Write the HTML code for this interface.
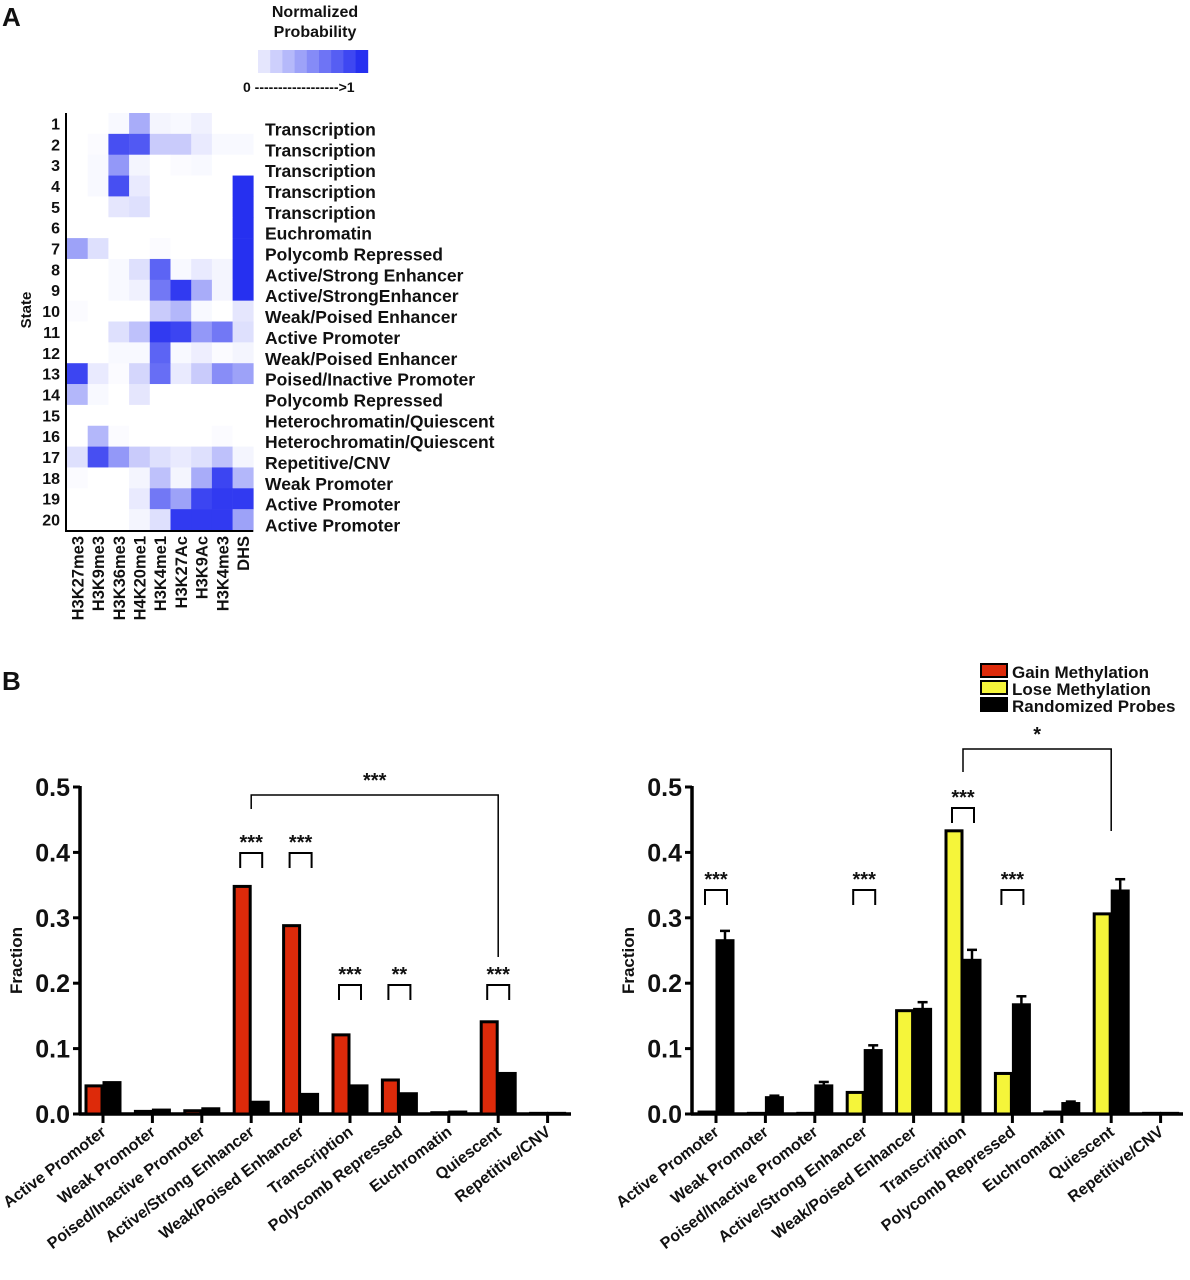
<!DOCTYPE html>
<html><head><meta charset="utf-8"><style>
body{margin:0;background:#fff;font-family:"Liberation Sans",Arial,sans-serif;}
svg{display:block}
text{font-family:"Liberation Sans",Arial,sans-serif;font-weight:bold;fill:#111}
</style></head><body>
<svg id="fig" width="1190" height="1280" viewBox="0 0 1190 1280">
<text x="2" y="26" font-size="26">A</text>
<text x="2" y="690" font-size="26">B</text>
<text x="315" y="17" font-size="16" text-anchor="middle">Normalized</text>
<text x="315" y="37" font-size="16" text-anchor="middle">Probability</text>
<g id="cbar"></g>
<text x="243" y="92" font-size="14">0 ------------------&gt;1</text>
<text transform="translate(31,310) rotate(-90)" font-size="15" text-anchor="middle">State</text>
<g id="heat"></g>
<g id="barL"></g>
<g id="barR"></g>
<g>
<rect x="981" y="664" width="26" height="13" fill="#dd2a0a" stroke="#000" stroke-width="2"/>
<text x="1012" y="678" font-size="17">Gain Methylation</text>
<rect x="981" y="681" width="26" height="13" fill="#f5f53a" stroke="#000" stroke-width="2"/>
<text x="1012" y="695" font-size="17">Lose Methylation</text>
<rect x="981" y="698" width="26" height="13" fill="#000" stroke="#000" stroke-width="2"/>
<text x="1012" y="712" font-size="17">Randomized Probes</text>
</g>
</svg>
<script>
const marks=["H3K27me3","H3K9me3","H3K36me3","H4K20me1","H3K4me1","H3K27Ac","H3K9Ac","H3K4me3","DHS"];
const stateNames=["Transcription","Transcription","Transcription","Transcription","Transcription","Euchromatin","Polycomb Repressed","Active/Strong Enhancer","Active/StrongEnhancer","Weak/Poised Enhancer","Active Promoter","Weak/Poised Enhancer","Poised/Inactive Promoter","Polycomb Repressed","Heterochromatin/Quiescent","Heterochromatin/Quiescent","Repetitive/CNV","Weak Promoter","Active Promoter","Active Promoter"];
const heatValues=[
[0,0,.03,.4,.05,.03,.07,0,0],
[0,.02,.85,.8,.25,.25,.1,.03,.03],
[0,.03,.5,.05,0,.02,.03,0,0],
[0,.03,.85,.1,0,0,0,0,1],
[0,0,.12,.15,0,0,0,0,1],
[0,0,0,0,0,0,0,0,1],
[.45,.15,0,0,.02,0,0,0,1],
[0,0,.03,.15,.75,.03,.1,.05,1],
[0,0,.03,.07,.65,.95,.4,.05,1],
[.02,0,0,0,.25,.35,.03,0,.12],
[0,0,.15,.3,.95,.9,.5,.65,.15],
[0,0,.03,.03,.75,.03,.08,.02,.05],
[.9,.1,.02,.2,.7,.1,.25,.55,.45],
[.35,.03,0,.12,0,0,0,0,0],
[0,0,0,0,0,0,0,0,0],
[0,.35,.02,0,0,0,0,.02,0],
[.15,.85,.5,.25,.15,.1,.15,.3,.05],
[.02,0,0,.05,.3,.05,.4,.9,.35],
[0,0,0,.1,.65,.45,.9,.95,.95],
[0,0,0,.05,.15,.95,.95,.95,.45]];
const categories=["Active Promoter","Weak Promoter","Poised/Inactive Promoter","Active/Strong Enhancer","Weak/Poised Enhancer","Transcription","Polycomb Repressed","Euchromatin","Quiescent","Repetitive/CNV"];
const gainValues=[0.043,0.004,0.005,0.348,0.288,0.121,0.052,0.002,0.141,0.001];
const randomLeft=[0.048,0.006,0.008,0.018,0.030,0.043,0.031,0.003,0.062,0.001];
const loseValues=[0.003,0.001,0.001,0.033,0.158,0.433,0.062,0.003,0.306,0.001];
const randomRight=[0.265,0.025,0.043,0.097,0.160,0.235,0.167,0.016,0.341,0.001];
const randomRightErr=[0.015,0.003,0.006,0.008,0.011,0.016,0.013,0.003,0.018,0];
const yTicks=["0.0","0.1","0.2","0.3","0.4","0.5"];

const NS="http://www.w3.org/2000/svg";
function mk(tag,parent,attrs){const e=document.createElementNS(NS,tag);for(const k in attrs)e.setAttribute(k,attrs[k]);parent.appendChild(e);return e;}
function col(v){const r=Math.round(255-v*(255-38)),g=Math.round(255-v*(255-48)),b=Math.round(255-v*(255-240));return `rgb(${r},${g},${b})`;}

const cb=document.getElementById('cbar');
for(let i=0;i<9;i++){const r=mk('rect',cb,{x:258+i*12.2,y:50,width:12.6,height:23,fill:col(0.12+i*0.11)});

}

const hm=document.getElementById('heat');
const hx0=67,hy0=113,cw=20.7,rh=20.85;
const hx=j=>hx0+j*cw, hy=i=>hy0+i*rh;
heatValues.forEach((row,i)=>{row.forEach((v,j)=>{
const r=mk('rect',hm,{x:hx(j),y:hy(i),width:cw+0.3,height:rh+0.3,fill:col(v)});

});
const n=mk('text',hm,{x:60,y:hy(i)+rh/2+6,'font-size':16,'text-anchor':'end'});n.textContent=i+1;


const l=mk('text',hm,{x:265,y:hy(i)+rh/2+12,'font-size':17.5});l.textContent=stateNames[i];

});
mk('line',hm,{x1:66,y1:hy0,x2:66,y2:hy(20)+1,stroke:'#000','stroke-width':2});
mk('line',hm,{x1:65,y1:hy(20)+1,x2:hx(9),y2:hy(20)+1,stroke:'#000','stroke-width':2});
marks.forEach((m,j)=>{const t=mk('text',hm,{transform:`translate(${hx(j)+cw/2+6},${hy(20)+6}) rotate(-90)`,'font-size':16.5,'text-anchor':'end'});t.textContent=m;

});

function barChart(g,ax,t0,axEnd,s1,s2,err,c1,brackets,big){
const y0=1114,y5=787;const y=v=>y0-(v/0.5)*(y0-y5);const xc=i=>t0+i*49.4;
mk('line',g,{x1:ax,y1:y5-1,x2:ax,y2:y0+1,stroke:'#000','stroke-width':3.5});
mk('line',g,{x1:ax-1,y1:y0,x2:axEnd,y2:y0,stroke:'#000','stroke-width':3.5});
yTicks.forEach((t,k)=>{const v=k*0.1;mk('line',g,{x1:ax-7,y1:y(v),x2:ax,y2:y(v),stroke:'#000','stroke-width':3});
const tx=mk('text',g,{x:ax-10,y:y(v)+9,'font-size':25,'text-anchor':'end'});tx.textContent=t;

});
const yt=mk('text',g,{transform:`translate(${ax-58},${(y0+y5)/2+10}) rotate(-90)`,'font-size':17,'text-anchor':'middle'});yt.textContent='Fraction';


categories.forEach((c,i)=>{const x=xc(i);
const b1=mk('rect',g,{x:x-17,y:y(s1[i]),width:16,height:y0-y(s1[i]),fill:c1,stroke:'#000','stroke-width':3});


if(err&&err[i]>0){mk('line',g,{x1:x+9,y1:y(s2[i]+err[i]),x2:x+9,y2:y(s2[i]),stroke:'#000','stroke-width':2.5});
mk('line',g,{x1:x+4,y1:y(s2[i]+err[i]),x2:x+14,y2:y(s2[i]+err[i]),stroke:'#000','stroke-width':2.5});}
const b2=mk('rect',g,{x:x+1,y:y(s2[i]),width:16,height:y0-y(s2[i]),fill:'#000',stroke:'#000','stroke-width':3});


mk('line',g,{x1:x,y1:y0,x2:x,y2:y0+9,stroke:'#000','stroke-width':3});
const lt=mk('text',g,{transform:`translate(${x+4},${y0+20}) rotate(-37)`,'font-size':16,'text-anchor':'end'});lt.textContent=c;

});
brackets.forEach(([i,by,s])=>{const x=xc(i);
mk('path',g,{d:`M${x-11},${by+15}V${by}H${x+11}V${by+15}`,fill:'none',stroke:'#000','stroke-width':2});
const st=mk('text',g,{x:x,y:by-4,'font-size':20,'text-anchor':'middle'});st.textContent=s;

});
const [i1,i2,top,b1,b2,s]=big;const xa=xc(i1),xb=xc(i2);
mk('path',g,{d:`M${xa},${b1}V${top}H${xb}V${b2}`,fill:'none',stroke:'#000','stroke-width':1.5});
const st=mk('text',g,{x:(xa+xb)/2,y:top-8,'font-size':20,'text-anchor':'middle'});st.textContent=s;

}
barChart(document.getElementById('barL'),80,103,571,gainValues,randomLeft,null,'#dd2a0a',
[[3,853,'***'],[4,853,'***'],[5,985,'***'],[6,985,'**'],[8,985,'***']],[3,8,795,809,957,'***']);
barChart(document.getElementById('barR'),692,716,1183,loseValues,randomRight,randomRightErr,'#f5f53a',
[[0,890,'***'],[3,890,'***'],[5,808,'***'],[6,890,'***']],[5,8,749,772,831,'*']);
</script>
</body></html>
